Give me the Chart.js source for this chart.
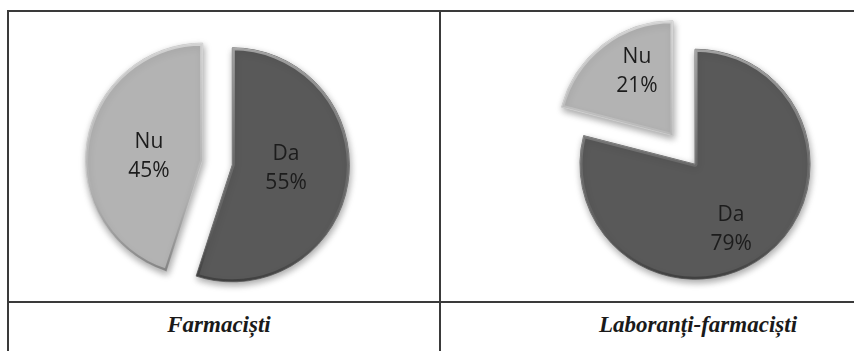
<!DOCTYPE html>
<html>
<head>
<meta charset="utf-8">
<script src="https://cdn.jsdelivr.net/npm/chart.js@4.4.1/dist/chart.umd.min.js"></script>
<style>
  html, body { margin: 0; padding: 0; background: #fff; }
  body { width: 854px; height: 351px; position: relative; overflow: hidden; }
  .ln { position: absolute; background: #3a3a3a; }
  .box { position: absolute; }
  .cap {
    position: absolute; top: 312px; line-height: 26px; width: 400px; text-align: center;
    font: italic bold 23px "Liberation Serif", serif; color: #1a1a1a; white-space: nowrap;
  }
</style>
</head>
<body>
<!-- table grid -->
<div class="ln" style="left:7px;top:10px;width:2px;height:341px"></div>
<div class="ln" style="left:7px;top:10px;width:847px;height:2px"></div>
<div class="ln" style="left:439px;top:10px;width:2px;height:341px"></div>
<div class="ln" style="left:7px;top:301px;width:847px;height:2px"></div>

<div class="box" style="left:77px;top:22px;width:281px;height:281px"><canvas id="pieLeft"></canvas></div>
<div class="box" style="left:542px;top:8px;width:284px;height:284px"><canvas id="pieRight"></canvas></div>

<div class="cap" id="capLeft" style="left:19px"></div>
<div class="cap" id="capRight" style="left:498px"></div>

<script>
// ---- data ----
const sliceLabels = ["Da", "Nu"];
const farmacistiValues = [55, 45];
const laborantiValues  = [79, 21];
const captions = ["Farmaciști", "Laboranți-farmaciști"];

const DA_COLOR = "#595959";
const NU_COLOR = "#b3b3b3";

document.getElementById("capLeft").textContent  = captions[0];
document.getElementById("capRight").textContent = captions[1];

/* exploded slices + soft drop shadow + a little bevel rim.
 * Chart.js' own `offset` also grows the radius, so we shift each arc ourselves. */
const explodePlugin = {
  id: "explode",
  beforeDatasetDraw(chart, args, opts) {
    const ctx = chart.ctx;
    args.meta.data.forEach(arc => {
      const p = arc.getProps(["x", "y", "startAngle", "endAngle", "outerRadius"], true);
      const mid = (p.startAngle + p.endAngle) / 2;
      ctx.save();
      ctx.translate(Math.cos(mid) * opts.dist, Math.sin(mid) * opts.dist);
      ctx.save();
      ctx.shadowColor = "rgba(0,0,0,0.35)";
      ctx.shadowBlur = 7;
      ctx.shadowOffsetX = 1;
      ctx.shadowOffsetY = 3;
      arc.draw(ctx, chart.chartArea);
      ctx.restore();

      // bevel: light rim on top, darker rim at the bottom
      ctx.beginPath();
      ctx.moveTo(p.x, p.y);
      ctx.arc(p.x, p.y, p.outerRadius, p.startAngle, p.endAngle);
      ctx.closePath();
      ctx.clip();
      const g = ctx.createLinearGradient(0, p.y - p.outerRadius, 0, p.y + p.outerRadius);
      g.addColorStop(0, "rgba(255,255,255,0.45)");
      g.addColorStop(0.5, "rgba(255,255,255,0.12)");
      g.addColorStop(1, "rgba(0,0,0,0.28)");
      ctx.strokeStyle = g;
      ctx.lineWidth = 5;
      ctx.lineJoin = "round";
      ctx.stroke();
      ctx.restore();
    });
    return false;
  }
};

/* two-line labels "Da / 55%" inside each slice */
const sliceLabelPlugin = {
  id: "sliceLabels",
  afterDatasetsDraw(chart, args, opts) {
    const ctx = chart.ctx;
    const meta = chart.getDatasetMeta(0);
    const ds = chart.data.datasets[0];
    const dist = chart.options.plugins.explode.dist;
    ctx.save();
    ctx.font = '21px "Open Sans", sans-serif';
    ctx.fillStyle = "#1c1c1c";
    ctx.textAlign = "center";
    ctx.textBaseline = "middle";
    meta.data.forEach((arc, i) => {
      const p = arc.getProps(["x", "y", "startAngle", "endAngle", "outerRadius"], true);
      const mid = (p.startAngle + p.endAngle) / 2 + opts.rot;
      const d = dist + p.outerRadius * opts.frac;
      const cx = p.x + Math.cos(mid) * d;
      const cy = p.y + Math.sin(mid) * d;
      ctx.fillText(chart.data.labels[i], cx, cy - 14);
      ctx.fillText(ds.data[i] + "%", cx, cy + 15);
    });
    ctx.restore();
  }
};

function makePie(id, values, radius, dist, frac, rot) {
  return new Chart(document.getElementById(id), {
    type: "pie",
    data: {
      labels: sliceLabels,
      datasets: [{
        data: values,
        backgroundColor: [DA_COLOR, NU_COLOR],
        borderColor: ["#6c6c6c", "#c6c6c6"],
        borderWidth: 1,
        radius: radius
      }]
    },
    options: {
      responsive: true,
      maintainAspectRatio: false,
      animation: false,
      layout: { padding: 0 },
      plugins: {
        legend: { display: false },
        tooltip: { enabled: false },
        explode: { dist: dist },
        sliceLabels: { frac: frac, rot: rot }
      }
    },
    plugins: [explodePlugin, sliceLabelPlugin]
  });
}

makePie("pieLeft",  farmacistiValues, 117, 15, 0.46, -0.07);
makePie("pieRight", laborantiValues,  115, 18, 0.64, 0.12);
</script>
</body>
</html>
